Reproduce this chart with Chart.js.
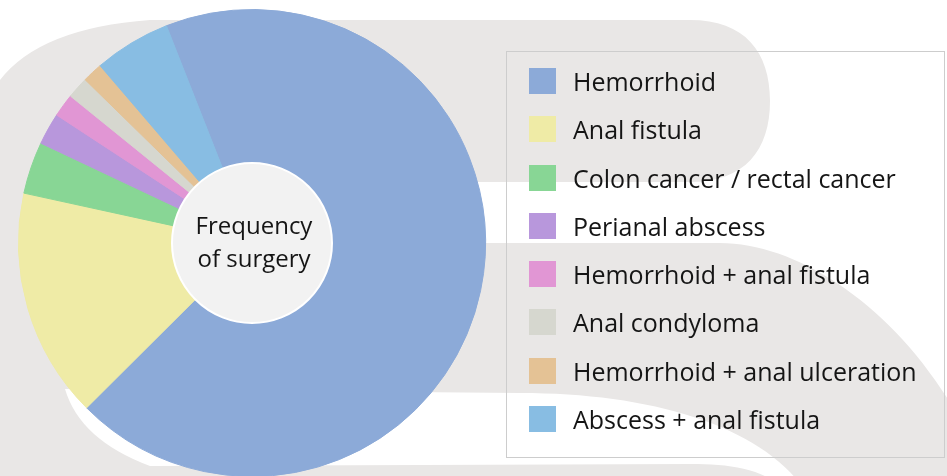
<!DOCTYPE html>
<html>
<head>
<meta charset="utf-8">
<script src="https://cdn.jsdelivr.net/npm/chart.js@4.4.1/dist/chart.umd.min.js"></script>
<style>
  html, body { margin: 0; padding: 0; background: #fff; overflow: hidden; }
  #wrap { position: relative; width: 947px; height: 476px; overflow: hidden; }
  #surgeryChart { position: absolute; left: 0; top: 0; }
  #legendBox {
    position: absolute; left: 506px; top: 51px; width: 437px; height: 405px;
    border: 1px solid #cdcdcd;
  }
  #legendList {
    position: absolute; left: 529px; top: 68px; margin: 0; padding: 0; list-style: none;
    font-family: "Open Sans", sans-serif; font-size: 25px; color: #151515;
  }
  #legendList li { display: flex; align-items: center; height: 26px; margin-bottom: 22.3px; line-height: 26px; white-space: nowrap; }
  #legendList span.sw { display: inline-block; width: 27px; height: 26px; margin-right: 17px; }
</style>
</head>
<body>
<div id="wrap">
  <canvas id="surgeryChart" width="947" height="490"></canvas>
  <div id="legendBox"></div>
  <ul id="legendList"></ul>
</div>
<script>
// surgery types, share of all operations (%)
const categories = [
  "Hemorrhoid",
  "Anal fistula",
  "Colon cancer / rectal cancer",
  "Perianal abscess",
  "Hemorrhoid + anal fistula",
  "Anal condyloma",
  "Hemorrhoid + anal ulceration",
  "Abscess + anal fistula"
];
const shares = [68.5, 15.9, 3.6, 2.2, 1.6, 1.5, 1.4, 5.3];
const colors = ["#8caad8", "#efeba6", "#88d695", "#b897dc", "#e196d4", "#d6d7cf", "#e4c295", "#88bde3"];
const centerLines = ["Frequency", "of surgery"];

// big grey watermark shapes behind everything
const backdrop = {
  id: "backdrop",
  beforeDraw(chart) {
    const ctx = chart.ctx;
    ctx.save();
    ctx.fillStyle = "#e9e7e6";
    ctx.fillRect(0, 0, chart.width, chart.height);
    ctx.fillStyle = "#ffffff";
    // upper white area
    ctx.beginPath();
    ctx.moveTo(0, 0);
    ctx.lineTo(960, 0);
    ctx.lineTo(960, 420);
    ctx.bezierCurveTo(900, 310, 800, 243, 720, 243);
    ctx.lineTo(250, 243);
    ctx.lineTo(250, 182);
    ctx.lineTo(690, 182);
    ctx.bezierCurveTo(745, 182, 770, 150, 770, 101);
    ctx.bezierCurveTo(770, 52, 745, 20, 690, 20);
    ctx.lineTo(150, 20);
    ctx.quadraticCurveTo(40, 28, 0, 80);
    ctx.closePath();
    ctx.fill();
    // lower white gap
    ctx.beginPath();
    ctx.moveTo(65, 389);
    ctx.lineTo(520, 393);
    ctx.bezierCurveTo(650, 393, 760, 425, 805, 490);
    ctx.lineTo(788, 490);
    ctx.bezierCurveTo(760, 468, 730, 464, 690, 464);
    ctx.lineTo(150, 466);
    ctx.quadraticCurveTo(80, 440, 65, 389);
    ctx.closePath();
    ctx.fill();
    ctx.restore();
  }
};

// light hole and its two-line caption
const centerLabel = {
  id: "centerLabel",
  afterDatasetsDraw(chart) {
    const arc = chart.getDatasetMeta(0).data[0];
    if (!arc) return;
    const ctx = chart.ctx;
    ctx.save();
    ctx.beginPath();
    ctx.arc(arc.x, arc.y, arc.innerRadius, 0, Math.PI * 2);
    ctx.fillStyle = "#f2f2f2";
    ctx.fill();
    ctx.lineWidth = 2;
    ctx.strokeStyle = "#ffffff";
    ctx.stroke();
    ctx.fillStyle = "#151515";
    ctx.font = "24px 'Open Sans', sans-serif";
    ctx.textAlign = "center";
    ctx.textBaseline = "alphabetic";
    ctx.fillText(centerLines[0], arc.x + 2, arc.y - 9);
    ctx.fillText(centerLines[1], arc.x + 2, arc.y + 24);
    ctx.restore();
  }
};

const surgeryCanvas = document.getElementById("surgeryChart");

const surgeryChart = new Chart(surgeryCanvas, {
  type: "doughnut",
  data: {
    labels: categories,
    datasets: [{
      data: shares,
      backgroundColor: colors,
      borderColor: colors,
      borderWidth: 1
    }]
  },
  options: {
    responsive: false,
    animation: false,
    devicePixelRatio: 1,
    events: [],
    rotation: -21.5,
    cutout: 80,
    layout: {
      padding: { left: 18, top: 9, right: 461, bottom: 13 }
    },
    plugins: {
      legend: { display: false },
      tooltip: { enabled: false }
    }
  },
  plugins: [backdrop, centerLabel]
});

// html legend from the same arrays
const list = document.getElementById("legendList");
categories.forEach((name, i) => {
  const li = document.createElement("li");
  const sw = document.createElement("span");
  sw.className = "sw";
  sw.style.background = colors[i];
  li.appendChild(sw);
  li.appendChild(document.createTextNode(name));
  list.appendChild(li);
});
</script>
</body>
</html>
